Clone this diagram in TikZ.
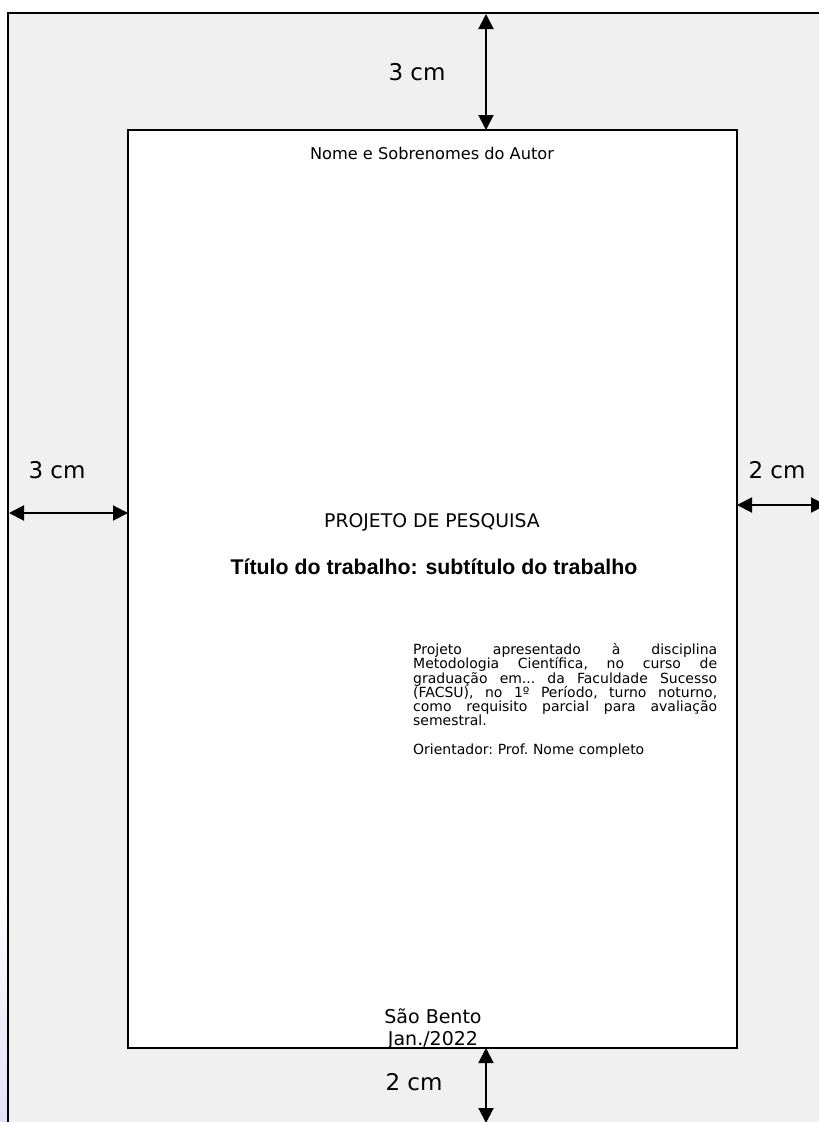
\documentclass[tikz,border=0pt]{standalone}
\usepackage{fontspec}
\setmainfont{DejaVu Sans}
\newfontfamily\arialfont{Liberation Sans}
\usetikzlibrary{arrows.meta}
\definecolor{sheetgray}{HTML}{F0F0F0}
\definecolor{lav}{HTML}{E4E0F4}
\newcommand\jline[1]{\leavevmode\hbox to 304pt{#1}}
\begin{document}
\begin{tikzpicture}[x=1pt,y=-1pt,
  dim/.style={line width=2pt, {Triangle[length=15pt,width=15pt]}-{Triangle[length=15pt,width=15pt]}},
  lbl/.style={font=\fontsize{23}{26}\selectfont, inner sep=0pt},
  sheetbox/.style={draw, line width=2pt, anchor=north west, inner sep=0pt, outer sep=0pt},
  txt/.style={inner sep=0pt}]
\useasboundingbox (0,0) rectangle (819,1122);
\clip (0,0) rectangle (819,1122);
\fill[white] (0,0) rectangle (819,1122);
\shade[top color=white, bottom color=lav] (0,880) rectangle (8,1122);
% outer sheet
\node[sheetbox, fill=sheetgray, minimum width=900pt, minimum height=1200pt] (sheet) at (8,13) {};
% inner page
\node[sheetbox, fill=white, minimum width=609pt, minimum height=918pt] (page) at (128,130) {};
% dimension arrows
\coordinate (topA) at (486,14);
\draw[dim] (topA) -- (topA |- page.north);
\coordinate (leftA) at (9,513);
\draw[dim] (leftA) -- (leftA -| page.west);
\coordinate (rightA) at (826,505);
\draw[dim] (rightA -| page.east) -- (rightA);
\coordinate (botA) at (486,1123);
\draw[dim] (botA |- page.south) -- (botA);
% dimension labels
\node[lbl] (t3) at (417,72) {3 cm};
\node[lbl] (l3) at (57,470) {3 cm};
\node[lbl] (r2) at (777,470) {2 cm};
\node[lbl] (b2) at (414,1082) {2 cm};
% page texts
\node[txt, font=\fontsize{16.2}{19}\selectfont] (author) at (432,153) {Nome e Sobrenomes do Autor};
\node[txt, font=\fontsize{18.8}{22}\selectfont] (proj) at (432,522) {PROJETO DE PESQUISA};
\node[txt, font=\arialfont\bfseries\fontsize{21.3}{24}\selectfont] (title) at (434,567) {Título do trabalho: subtítulo do trabalho};
\node[txt, anchor=north west, text width=304pt, align=left, font=\fontsize{14}{14.3}\selectfont\frenchspacing] (desc) at (413,643) {%
\jline{Projeto\hfill apresentado\hfill à\hfill disciplina}\\
\jline{Metodologia\hfill Científica,\hfill no\hfill curso\hfill de}\\
\jline{graduação\hfill em...\hfill da\hfill Faculdade\hfill Sucesso}\\
\jline{(FACSU),\hfill no\hfill 1º\hfill Período,\hfill turno\hfill noturno,}\\
\jline{como\hfill requisito\hfill parcial\hfill para\hfill avaliação}\\
semestral.\\[14.3pt]
Orientador: Prof. Nome completo};
\node[txt, align=center, font=\fontsize{19}{22}\selectfont] (place) at (433,1029) {São Bento\\Jan./2022};
\end{tikzpicture}
\end{document}
